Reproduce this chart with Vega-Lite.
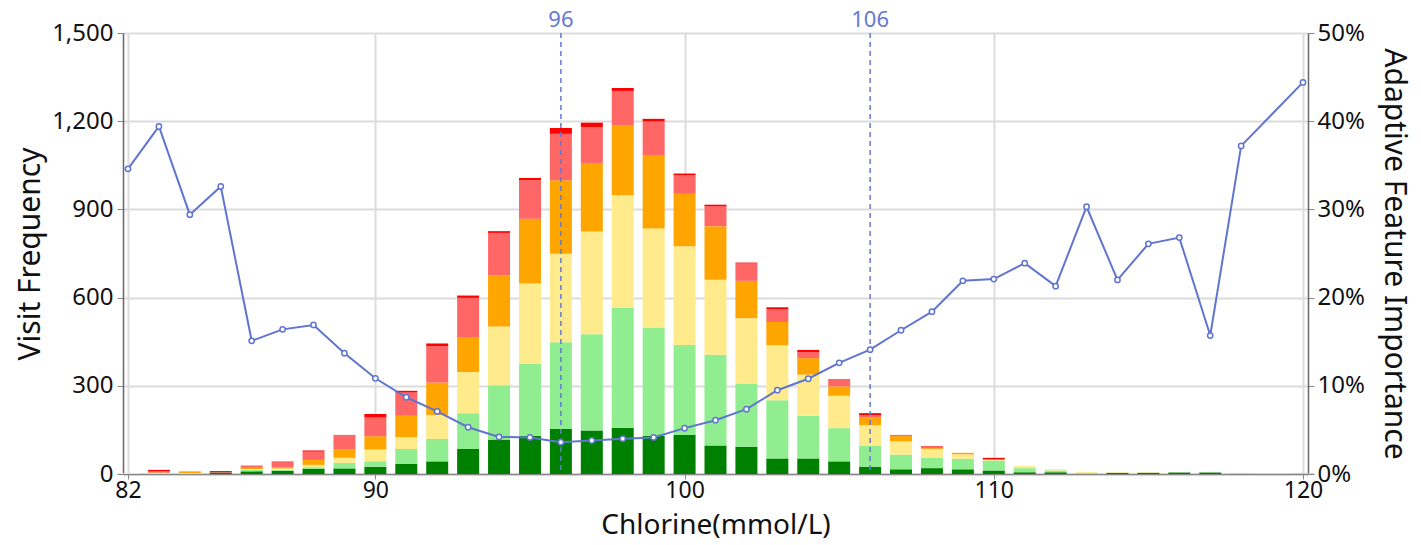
{
  "$schema": "https://vega.github.io/schema/vega-lite/v6.json",
  "width": 1185,
  "height": 441,
  "autosize": {"type": "none"},
  "padding": {"left": 123, "top": 33, "right": 113, "bottom": 71},
  "background": "white",
  "config": {
    "font": "Noto Sans",
    "view": {"stroke": null},
    "axis": {
      "labelFont": "Noto Sans",
      "titleFont": "Noto Sans",
      "labelFontSize": 24,
      "titleFontSize": 30,
      "titleFontWeight": "normal",
      "labelColor": "#111",
      "titleColor": "#111",
      "domainColor": "#888",
      "domainWidth": 1.5,
      "tickColor": "#888",
      "tickSize": 6,
      "gridColor": "#dcdcdc",
      "gridWidth": 2
    }
  },
  "datasets": {
    "bins": [
      {"x": 82, "c1": 0, "c2": 0, "c3": 3, "c4": 0, "c5": 0, "c6": 0, "imp": 0.346},
      {"x": 83, "c1": 0, "c2": 0, "c3": 3, "c4": 2, "c5": 4, "c6": 5, "imp": 0.394},
      {"x": 84, "c1": 0, "c2": 0, "c3": 3, "c4": 6, "c5": 0, "c6": 0, "imp": 0.294},
      {"x": 85, "c1": 5, "c2": 0, "c3": 0, "c4": 0, "c5": 1, "c6": 4, "imp": 0.326},
      {"x": 86, "c1": 9, "c2": 5, "c3": 3, "c4": 4, "c5": 8, "c6": 0, "imp": 0.151},
      {"x": 87, "c1": 11, "c2": 4, "c3": 4, "c4": 5, "c5": 18, "c6": 1, "imp": 0.164},
      {"x": 88, "c1": 17, "c2": 6, "c3": 8, "c4": 17, "c5": 28, "c6": 4, "imp": 0.169},
      {"x": 89, "c1": 19, "c2": 19, "c3": 17, "c4": 28, "c5": 50, "c6": 0, "imp": 0.137},
      {"x": 90, "c1": 25, "c2": 18, "c3": 40, "c4": 45, "c5": 64, "c6": 12, "imp": 0.1085},
      {"x": 91, "c1": 34, "c2": 51, "c3": 40, "c4": 73, "c5": 79, "c6": 6, "imp": 0.087},
      {"x": 92, "c1": 43, "c2": 76, "c3": 82, "c4": 110, "c5": 124, "c6": 9, "imp": 0.071},
      {"x": 93, "c1": 85, "c2": 122, "c3": 140, "c4": 119, "c5": 133, "c6": 8, "imp": 0.053},
      {"x": 94, "c1": 117, "c2": 185, "c3": 200, "c4": 173, "c5": 145, "c6": 6, "imp": 0.042},
      {"x": 95, "c1": 130, "c2": 246, "c3": 272, "c4": 220, "c5": 131, "c6": 8, "imp": 0.0415},
      {"x": 96, "c1": 153, "c2": 295, "c3": 301, "c4": 250, "c5": 158, "c6": 20, "imp": 0.036},
      {"x": 97, "c1": 148, "c2": 327, "c3": 350, "c4": 233, "c5": 122, "c6": 15, "imp": 0.038},
      {"x": 98, "c1": 157, "c2": 409, "c3": 382, "c4": 238, "c5": 117, "c6": 10, "imp": 0.040},
      {"x": 99, "c1": 130, "c2": 368, "c3": 337, "c4": 250, "c5": 114, "c6": 9, "imp": 0.0415},
      {"x": 100, "c1": 133, "c2": 306, "c3": 336, "c4": 178, "c5": 63, "c6": 6, "imp": 0.052},
      {"x": 101, "c1": 97, "c2": 309, "c3": 255, "c4": 182, "c5": 67, "c6": 6, "imp": 0.061},
      {"x": 102, "c1": 93, "c2": 215, "c3": 222, "c4": 127, "c5": 59, "c6": 3, "imp": 0.0735},
      {"x": 103, "c1": 53, "c2": 198, "c3": 187, "c4": 79, "c5": 43, "c6": 7, "imp": 0.095},
      {"x": 104, "c1": 53, "c2": 145, "c3": 140, "c4": 56, "c5": 21, "c6": 7, "imp": 0.108},
      {"x": 105, "c1": 43, "c2": 113, "c3": 110, "c4": 32, "c5": 22, "c6": 2, "imp": 0.126},
      {"x": 106, "c1": 25, "c2": 72, "c3": 69, "c4": 27, "c5": 7, "c6": 7, "imp": 0.141},
      {"x": 107, "c1": 16, "c2": 50, "c3": 45, "c4": 18, "c5": 4, "c6": 0, "imp": 0.163},
      {"x": 108, "c1": 20, "c2": 35, "c3": 30, "c4": 3, "c5": 3, "c6": 3, "imp": 0.184},
      {"x": 109, "c1": 16, "c2": 36, "c3": 15, "c4": 5, "c5": 0, "c6": 0, "imp": 0.219},
      {"x": 110, "c1": 12, "c2": 34, "c3": 2, "c4": 0, "c5": 3, "c6": 4, "imp": 0.221},
      {"x": 111, "c1": 6, "c2": 14, "c3": 7, "c4": 0, "c5": 0, "c6": 0, "imp": 0.239},
      {"x": 112, "c1": 6, "c2": 6, "c3": 4, "c4": 0, "c5": 0, "c6": 0, "imp": 0.213},
      {"x": 113, "c1": 0, "c2": 4, "c3": 3, "c4": 0, "c5": 0, "c6": 0, "imp": 0.303},
      {"x": 114, "c1": 4, "c2": 0, "c3": 2, "c4": 0, "c5": 0, "c6": 0, "imp": 0.220},
      {"x": 115, "c1": 4, "c2": 0, "c3": 2, "c4": 0, "c5": 0, "c6": 0, "imp": 0.261},
      {"x": 116, "c1": 5, "c2": 0, "c3": 0, "c4": 0, "c5": 0, "c6": 0, "imp": 0.268},
      {"x": 117, "c1": 5, "c2": 0, "c3": 0, "c4": 0, "c5": 0, "c6": 0, "imp": 0.157},
      {"x": 118, "c1": 0, "c2": 3, "c3": 0, "c4": 0, "c5": 0, "c6": 0, "imp": 0.372},
      {"x": 120, "c1": 0, "c2": 3, "c3": 0, "c4": 0, "c5": 0, "c6": 0, "imp": 0.444}
    ],
    "marks": [
      {"x": 96, "label": "96"},
      {"x": 106, "label": "106"}
    ]
  },
  "layer": [
    {
      "layer": [
        {
          "data": {"name": "bins"},
          "transform": [
            {"fold": ["c1", "c2", "c3", "c4", "c5", "c6"], "as": ["cat", "v"]}
          ],
          "mark": {"type": "bar", "size": 22},
          "encoding": {
            "x": {
              "field": "x", "type": "quantitative",
              "scale": {"domain": [82, 120], "nice": false, "zero": false},
              "axis": {"values": [82, 90, 100, 110, 120], "title": "Chlorine(mmol/L)", "tickSize": 5, "labelFontSize": 23, "titleFontSize": 28, "labelPadding": 0, "titlePadding": 9, "grid": true}
            },
            "y": {
              "field": "v", "type": "quantitative", "stack": "zero",
              "scale": {"domain": [0, 1500], "nice": false},
              "axis": {"values": [0, 300, 600, 900, 1200, 1500], "format": ",d", "title": "Visit Frequency", "titlePadding": 6, "labelPadding": 4, "grid": true, "domainColor": "#666"}
            },
            "color": {
              "field": "cat", "type": "nominal",
              "scale": {"domain": ["c1", "c2", "c3", "c4", "c5", "c6"], "range": ["#008000", "#90ee90", "#ffea8c", "#ffa500", "#ff6666", "#ff0000"]},
              "legend": null
            },
            "order": {"field": "cat", "sort": "ascending"}
          }
        },
        {
          "data": {"name": "marks"},
          "mark": {"type": "rule", "color": "#6478d2", "strokeDash": [5, 4], "strokeWidth": 1.5},
          "encoding": {
            "x": {"field": "x", "type": "quantitative"}
          }
        },
        {
          "data": {"name": "marks"},
          "mark": {"type": "text", "color": "#6478d2", "fontSize": 22, "baseline": "bottom", "dy": -1, "font": "Noto Sans"},
          "encoding": {
            "x": {"field": "x", "type": "quantitative"},
            "y": {"datum": 1500, "type": "quantitative"},
            "text": {"field": "label"}
          }
        }
      ]
    },
    {
      "data": {"name": "bins"},
      "mark": {"type": "line", "color": "#5f75d0", "strokeWidth": 2, "point": {"filled": false, "fill": "white", "stroke": "#5f75d0", "strokeWidth": 1.5, "size": 28}},
      "encoding": {
        "x": {"field": "x", "type": "quantitative"},
        "y": {
          "field": "imp", "type": "quantitative",
          "scale": {"domain": [0, 0.5], "nice": false},
          "axis": {"orient": "right", "values": [0, 0.1, 0.2, 0.3, 0.4, 0.5], "format": ".0%", "title": "Adaptive Feature Importance", "titleAngle": 90, "titlePadding": 14, "labelPadding": 3, "grid": false, "domainColor": "#666"}
        }
      }
    }
  ],
  "resolve": {"scale": {"y": "independent"}}
}
